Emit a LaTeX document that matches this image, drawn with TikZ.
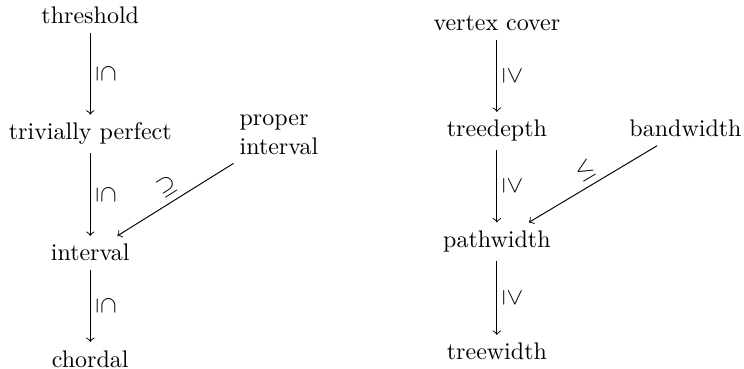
\documentclass[tikz,border=0pt]{standalone}
\usepackage{amsmath}
\usepackage{tikz}
\tikzstyle{tnode}=[anchor=base]
\tikzstyle{rel}=[midway,sloped,above,inner sep=2.5pt]
\tikzstyle{vrel}=[midway,rotate=-90,above,inner sep=2.5pt]

\begin{document}
\begin{tikzpicture}
    \useasboundingbox (0,0) rectangle (10.896,-5.404);
%   graph classes
    \node[tnode] (thr) at (1.322,-0.351) {threshold};
    \node[tnode] (tp)  at (1.322,-2.050) {trivially perfect};
    \node[tnode] (int) at (1.322,-3.822) {interval};
    \node[tnode] (chd) at (1.322,-5.375) {chordal};
    \node[align=left] (pint) at (4.086,-1.977) {proper\\interval};
	 \draw[->] (thr) -- node[vrel] {$\subseteq$} (tp);
	 \draw[->] (tp) -- node[vrel] {$\subseteq$} (int);
	 \draw[->] (int) -- node[vrel] {$\subseteq$} (chd);
	 \draw[->] (pint) -- node[rel] {$\supseteq$} (int);
%   parameters
    \node[tnode] (vc) at (7.277,-0.454) {vertex cover};
    \node[tnode] (td) at (7.277,-2.006) {treedepth};
    \node[tnode] (pw) at (7.277,-3.625) {pathwidth};
    \node[tnode] (tw) at (7.277,-5.272) {treewidth};
    \node[tnode] (bw) at (10.039,-2.006) {bandwidth};
	 \draw[->] (vc) -- node[vrel] {$\geq$} (td);
	 \draw[->] (td) -- node[vrel] {$\geq$} (pw);
	 \draw[->] (pw) -- node[vrel] {$\geq$} (tw);
	 \draw[->] (bw) -- node[rel] {$\leq$} (pw);
\end{tikzpicture}
\end{document}
